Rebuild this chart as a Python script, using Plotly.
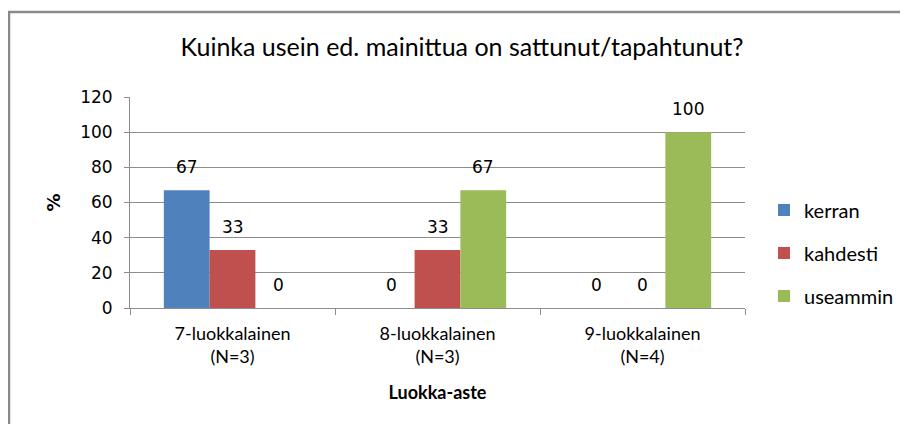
import plotly.graph_objects as go

categories = ["7-luokkalainen<br>(N=3)", "8-luokkalainen<br>(N=3)", "9-luokkalainen<br>(N=4)"]
series_names = ["kerran", "kahdesti", "useammin"]
kerran = [67, 0, 0]
kahdesti = [33, 33, 0]
useammin = [0, 67, 100]
colors = ["#4F81BD", "#C0504D", "#9BBB59"]
y_ticks = [0, 20, 40, 60, 80, 100, 120]

values = [kerran, kahdesti, useammin]
bargap = 0.33
bw = (1 - bargap) / 3

fig = go.Figure()
for i, (name, vals, col) in enumerate(zip(series_names, values, colors)):
    fig.add_trace(go.Bar(x=categories, y=vals, name=name, marker_color=col,
                         marker_line_width=0, legendgroup=name))

annotations = []
for i, vals in enumerate(values):
    for j, v in enumerate(vals):
        annotations.append(dict(x=j + (i - 1) * bw, y=v, xref="x", yref="y",
                                text=str(v), showarrow=False, yshift=23,
                                font=dict(family="DejaVu Sans", size=17, color="#000")))

# the page body adds an 8px margin on every side, so the figure is 16px smaller
W, H = 892, 416
L, T, PW, PH = 122, 89, 615, 211
grid_color = "#8C8C8C"


def px(xf):
    return (xf - L) / PW


def py(yf):
    return (T + PH - yf) / PH


fig.update_layout(
    width=W, height=H, autosize=False,
    paper_bgcolor="white", plot_bgcolor="white",
    margin=dict(l=L, r=W - L - PW, t=T, b=H - T - PH, autoexpand=False),
    barmode="group", bargap=bargap, bargroupgap=0,
    title=dict(text="Kuinka usein ed. mainittua on sattunut/tapahtunut?",
               x=454 / W, xanchor="center", y=1 - 39 / H, yanchor="middle",
               font=dict(family="Lato", size=25, color="#000")),
    xaxis=dict(type="category", tickson="boundaries", ticks="outside", ticklen=6,
               tickcolor=grid_color, showline=True, linecolor=grid_color, linewidth=1,
               showgrid=False, range=[-0.5, 2.5], ticklabelstandoff=9,
               tickfont=dict(family="Lato", size=18, color="#000"),
               title=dict(text="<b>Luokka-aste</b>", standoff=20,
                          font=dict(family="Lato", size=18, color="#000"))),
    yaxis=dict(range=[0, 120], tickvals=y_ticks, ticks="outside", ticklen=5,
               tickcolor=grid_color, showline=True, linecolor=grid_color, linewidth=1,
               showgrid=True, gridcolor=grid_color, gridwidth=1, zeroline=False,
               ticklabelstandoff=8,
               tickfont=dict(family="DejaVu Sans", size=17, color="#000"),
               title=dict(text="<b>%</b>", standoff=14,
                          font=dict(family="DejaVu Sans", size=18, color="#000"))),
    legend=dict(x=px(756), y=py(245), xanchor="left", yanchor="middle",
                tracegroupgap=14, font=dict(family="Lato", size=20, color="#000"),
                itemwidth=30, traceorder="grouped"),
    annotations=annotations,
    shapes=[dict(type="rect", xref="paper", yref="paper",
                 x0=px(1), x1=px(960), y0=py(480), y1=py(4),
                 line=dict(color="#8A8A8A", width=2.5), layer="below")],
    showlegend=True,
)
fig.write_html("out.html")
